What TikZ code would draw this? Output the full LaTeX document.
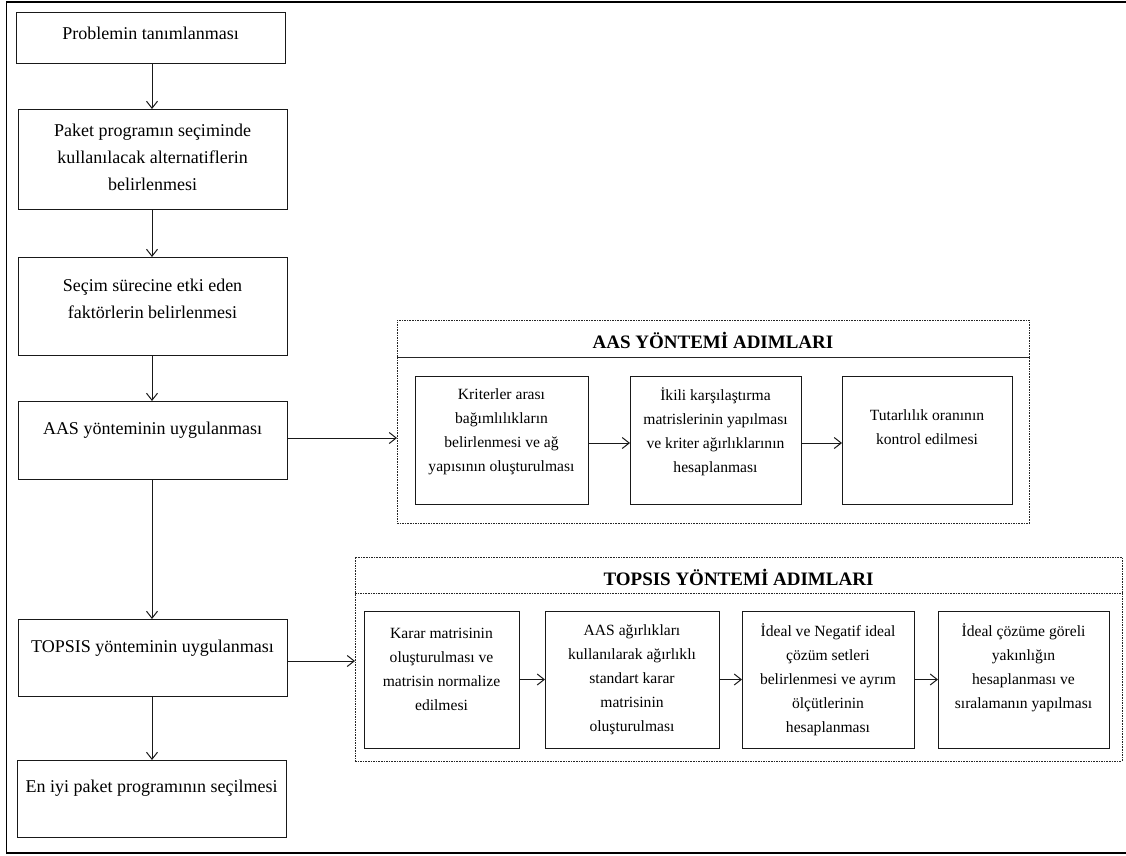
\documentclass[tikz,border=0pt]{standalone}
\usepackage{fontspec}
\setmainfont{Liberation Serif}
\usetikzlibrary{arrows.meta}
\tikzset{
  box/.style={draw=black!90, line width=1pt, inner sep=0pt, outer sep=0pt},
  grp/.style={draw=black!85, line width=1pt, dash pattern=on 1.6pt off 1pt, inner sep=0pt, outer sep=0pt},
  ltxt/.style={font=\fontsize{18}{27}\selectfont, align=center, inner sep=0pt},
  stxt/.style={font=\fontsize{15.6}{24}\selectfont, align=center, inner sep=0pt},
  ttl/.style={font=\fontsize{19}{23}\selectfont\bfseries, inner sep=0pt},
  arr/.style={draw=black!90, line width=1pt, -{Straight Barb[length=7pt,width=11pt]}},
  frame/.style={draw=black, line width=1.8pt},
}
\begin{document}
\begin{tikzpicture}[x=1pt, y=-1pt]
\useasboundingbox (0,0) rectangle (1126,855);
% outer frame
\draw[frame] (1126,2) -- (6.5,2) -- (6.5,853) -- (1126,853);

% left column
\node[box, minimum width=269pt, minimum height=51pt] (b1) at (150.5,37.5) {};
\node[ltxt] (t1) at (150.5,33) {Problemin tanımlanması};
\node[box, minimum width=269pt, minimum height=100pt] (b2) at (152.5,159) {};
\node[ltxt] (t2) at (152.5,157) {Paket programın seçiminde\\kullanılacak alternatiflerin\\belirlenmesi};
\node[box, minimum width=269pt, minimum height=98pt] (b3) at (152.5,306) {};
\node[ltxt] (t3) at (152.5,298.5) {Seçim sürecine etki eden\\faktörlerin belirlenmesi};
\node[box, minimum width=269pt, minimum height=78pt] (b4) at (152.5,440) {};
\node[ltxt] (t4) at (152.5,430) {AAS yönteminin uygulanması};
\node[box, minimum width=269pt, minimum height=77pt] (b5) at (152.5,657.5) {};
\node[ltxt] (t5) at (152.5,648) {TOPSIS yönteminin uygulanması};
\node[box, minimum width=269pt, minimum height=77pt] (b6) at (151.5,798.5) {};
\node[ltxt] (t6) at (151.5,788) {En iyi paket programının seçilmesi};

\draw[arr] (b1.south -| 152,0) -- (b2.north -| 152,0);
\draw[arr] (b2.south -| 152,0) -- (b3.north -| 152,0);
\draw[arr] (b3.south -| 152,0) -- (b4.north -| 152,0);
\draw[arr] (b4.south -| 152,0) -- (b5.north -| 152,0);
\draw[arr] (b5.south -| 152,0) -- (b6.north -| 152,0);

% AAS group
\node[grp, minimum width=632pt, minimum height=37pt] (aasT) at (713,338.5) {};
\node[ttl] (aasTt) at (713,340) {AAS YÖNTEMİ ADIMLARI};
\node[grp, minimum width=632pt, minimum height=166pt] (aas) at (713,440) {};
\node[box, minimum width=173pt, minimum height=128pt] (a1) at (501.5,440) {};
\node[stxt] at (501.5,432) {Kriterler arası\\bağımlılıkların\\belirlenmesi ve ağ\\yapısının oluşturulması};
\node[box, minimum width=171pt, minimum height=128pt] (a2) at (715.5,440) {};
\node[stxt] at (715.5,432) {İkili karşılaştırma\\matrislerinin yapılması\\ve kriter ağırlıklarının\\hesaplanması};
\node[box, minimum width=170pt, minimum height=128pt] (a3) at (927,440) {};
\node[stxt] at (927,427.5) {Tutarlılık oranının\\kontrol edilmesi};
\draw[arr] ([yshift=-3pt]a1.east) -- ([yshift=-3pt]a2.west);
\draw[arr] ([yshift=-3pt]a2.east) -- ([yshift=-3pt]a3.west);
\draw[arr] ([yshift=2pt]b4.east) -- ([yshift=2pt]aas.west);

% TOPSIS group
\node[grp, minimum width=767pt, minimum height=36pt] (topT) at (738.5,575) {};
\node[ttl] (topTt) at (738.5,577) {TOPSIS YÖNTEMİ ADIMLARI};
\node[grp, minimum width=767pt, minimum height=168pt] (top) at (738.5,677) {};
\node[box, minimum width=155pt, minimum height=137pt] (p1) at (441.5,679.5) {};
\node[stxt] at (441.5,669) {Karar matrisinin\\oluşturulması ve\\matrisin normalize\\edilmesi};
\node[box, minimum width=174pt, minimum height=137pt] (p2) at (632,679.5) {};
\node[stxt] at (632,680) {AAS ağırlıkları\\kullanılarak ağırlıklı\\standart karar\\matrisinin\\oluşturulması};
\node[box, minimum width=172pt, minimum height=137pt] (p3) at (828,679.5) {};
\node[stxt] at (828,680) {İdeal ve Negatif ideal\\çözüm setleri\\belirlenmesi ve ayrım\\ölçütlerinin\\hesaplanması};
\node[box, minimum width=171pt, minimum height=137pt] (p4) at (1023.5,679.5) {};
\node[stxt] at (1023.5,668) {İdeal çözüme göreli\\yakınlığın\\hesaplanması ve\\sıralamanın yapılması};
\draw[arr] (p1.east) -- (p2.west);
\draw[arr] (p2.east) -- (p3.west);
\draw[arr] (p3.east) -- (p4.west);
\draw[arr] ([yshift=-3.5pt]b5.east) -- ([yshift=-3.5pt]b5.east -| top.west);
\end{tikzpicture}
\end{document}
